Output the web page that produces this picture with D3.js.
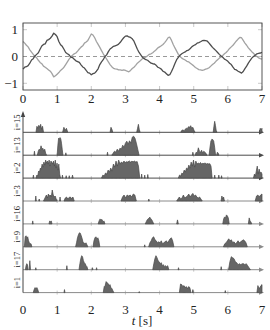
<!DOCTYPE html>
<html><head><meta charset="utf-8">
<script src="https://cdn.jsdelivr.net/npm/d3@7"></script>
<style>body{margin:0;background:#fff}svg{display:block}text{font-family:"Liberation Serif",serif;fill:#222}</style>
</head><body>
<svg id="c" width="270" height="330"></svg>
<script>
// ---- data ----
const tStep = 0.05;
const darkSignal = [-0.47,-0.40,-0.38,-0.34,-0.25,-0.13,-0.08,0.02,0.08,0.14,0.27,0.39,0.45,0.47,0.6,0.63,0.68,0.76,0.87,0.82,0.74,0.56,0.44,0.38,0.27,0.15,0.1,0.06,-0.02,-0.04,-0.1,-0.16,-0.19,-0.22,-0.31,-0.39,-0.43,-0.52,-0.6,-0.62,-0.68,-0.64,-0.62,-0.55,-0.46,-0.3,-0.2,-0.12,0.0,0.06,0.18,0.28,0.33,0.38,0.4,0.42,0.46,0.53,0.62,0.7,0.76,0.77,0.73,0.71,0.66,0.57,0.42,0.27,0.15,0.06,-0.03,-0.08,-0.12,-0.14,-0.2,-0.25,-0.27,-0.28,-0.33,-0.4,-0.43,-0.47,-0.55,-0.58,-0.64,-0.7,-0.68,-0.56,-0.42,-0.26,-0.12,-0.03,0.05,0.1,0.14,0.17,0.22,0.24,0.3,0.37,0.41,0.44,0.5,0.52,0.55,0.59,0.6,0.59,0.57,0.5,0.42,0.34,0.28,0.22,0.15,0.08,0.02,-0.03,-0.1,-0.13,-0.18,-0.25,-0.3,-0.4,-0.48,-0.5,-0.55,-0.58,-0.62,-0.56,-0.45,-0.36,-0.25,-0.15,-0.06,0.0,0.05,0.1,0.12,0.13,0.15];
const lightSignal = [0.56,0.5,0.42,0.36,0.25,0.16,0.08,0.0,-0.05,-0.14,-0.22,-0.27,-0.36,-0.4,-0.45,-0.5,-0.55,-0.64,-0.76,-0.72,-0.66,-0.6,-0.52,-0.47,-0.4,-0.3,-0.2,-0.1,-0.02,0.05,0.1,0.13,0.2,0.28,0.35,0.4,0.5,0.54,0.6,0.72,0.84,0.8,0.7,0.56,0.45,0.34,0.22,0.1,0.0,-0.1,-0.2,-0.3,-0.38,-0.44,-0.46,-0.47,-0.5,-0.5,-0.52,-0.5,-0.52,-0.55,-0.57,-0.52,-0.45,-0.4,-0.33,-0.25,-0.2,-0.14,-0.08,-0.05,-0.02,0.03,0.08,0.1,0.14,0.2,0.25,0.32,0.36,0.4,0.45,0.52,0.6,0.7,0.72,0.6,0.45,0.32,0.2,0.08,0.0,-0.06,-0.1,-0.13,-0.18,-0.2,-0.25,-0.3,-0.35,-0.41,-0.45,-0.49,-0.5,-0.52,-0.5,-0.47,-0.45,-0.42,-0.36,-0.3,-0.25,-0.18,-0.12,-0.06,-0.02,0.04,0.1,0.15,0.22,0.3,0.36,0.42,0.5,0.58,0.65,0.71,0.7,0.6,0.5,0.42,0.32,0.25,0.18,0.12,0.05,0.0,-0.05,-0.08,-0.1];
const xTicks = [0,1,2,3,4,5,6,7];
const yTicks = [-1,0,1];
const rowLabels = ["i=15","i=13","i=2","i=3","i=16","i=9","i=17","i=1"];
// bursts: [start, end, samples]
const bursts15 = [[0.38,0.6,[0,0.3,0.2,0.35,0.25,0.4,0.15,0.3,0]],[1.16,1.31,[0,0.25,0.1,0.2,0]],[2.55,2.63,[0,0.25,0.15,0]],[3.33,3.43,[0,0.2,0.4,0.15,0]],[4.62,5.04,[0,0.1,0.12,0.08,0.15,0.2,0.18,0.28,0.25,0.33,0.2,0.25,0.1,0]],[5.57,5.68,[0,0.3,0.55,0.35,0.1,0]],[6.92,7.0,[0,0.2,0.15,0.2]]];
const bursts13 = [[0.32,0.35,[0,0.2,0]],[0.42,0.69,[0,0.2,0.3,0.25,0.47,0.3,0.35,0.2,0.3,0.1,0]],[1.0,1.17,[0,0.5,0.85,0.8,0.88,0.82,0.6,0.3,0]],[1.24,1.27,[0,0.12,0]],[2.46,2.49,[0,0.15,0]],[2.6,3.4,[0,0.1,0.2,0.15,0.3,0.2,0.35,0.3,0.5,0.4,0.6,0.7,0.55,0.72,0.6,0.9,0.95,0.85,0.6,0.3,0]],[4.96,4.99,[0,0.15,0]],[5.04,5.39,[0,0.15,0.1,0.37,0.2,0.15,0.25,0.1,0.2,0.15,0.1,0]],[5.45,5.64,[0,0.4,0.7,0.8,0.78,0.7,0.4,0]],[5.67,5.74,[0,0.15,0.1,0]]];
const bursts2 = [[0.29,0.32,[0,0.15,0]],[0.38,1.1,[0,0.15,0.1,0.35,0.3,0.5,0.45,0.7,0.55,0.8,0.65,0.9,0.75,0.85,0.7,0.9,0.6,0.85,0.8,0.7,0.85,0.6,0.9,0.5,0.75,0.4,0.7,0.2,0]],[1.14,1.17,[0,0.15,0]],[1.25,1.28,[0,0.12,0]],[1.34,1.37,[0,0.12,0]],[1.43,1.47,[0,0.15,0]],[2.3,3.42,[0,0.15,0.1,0.25,0.2,0.4,0.3,0.5,0.35,0.7,0.55,0.85,0.6,0.9,0.7,0.8,0.75,0.85,0.78,0.82,0.8,0.86,0.8,0.84,0.82,0.85,0.8,0.83,0.6,0]],[3.46,3.49,[0,0.2,0]],[3.55,3.58,[0,0.15,0]],[3.64,3.67,[0,0.18,0]],[4.55,5.54,[0,0.15,0.1,0.25,0.2,0.4,0.3,0.5,0.45,0.65,0.5,0.8,0.6,0.9,0.55,0.85,0.7,0.75,0.72,0.78,0.7,0.74,0.72,0.76,0.7,0.73,0.71,0.72,0.6,0]],[5.6,5.63,[0,0.15,0]],[5.72,5.75,[0,0.15,0]],[5.8,5.83,[0,0.12,0]],[6.75,7.0,[0,0.2,0.1,0.35,0.6,0.2,0.45,0.25,0.3,0.2]]];
const bursts3 = [[0.36,0.39,[0,0.25,0]],[0.46,0.49,[0,0.1,0]],[0.6,1.0,[0,0.1,0.2,0.3,0.15,0.35,0.25,0.3,0.2,0.55,0.3,0.2,0.25,0.1,0]],[1.07,1.1,[0,0.2,0]],[1.2,1.5,[0,0.15,0.2,0.1,0.18,0.2,0.12,0.2,0]],[2.87,3.32,[0,0.2,0.3,0.15,0.3,0.25,0.3,0.2,0.35,0.3,0]],[3.67,3.7,[0,0.1,0]],[4.5,5.25,[0,0.1,0.2,0.1,0.15,0.3,0.15,0.2,0.25,0.35,0.2,0.3,0.38,0.25,0.3,0.2,0.15,0.2,0.1,0]],[5.8,5.9,[0,0.25,0.1,0.2,0]],[6.8,7.0,[0,0.25,0.3,0.2,0.3,0.35]]];
const bursts16 = [[0.27,0.3,[0,0.15,0]],[0.76,0.85,[0,0.15,0.1,0.15,0]],[2.2,2.4,[0,0.15,0.25,0.2,0.22,0.1,0.15,0]],[3.58,3.83,[0,0.1,0.2,0.25,0.3,0.33,0.25,0.2,0.1,0]],[4.5,4.55,[0,0.2,0]],[5.85,6.04,[0,0.25,0.35,0.3,0.45,0.4,0.3,0]],[6.6,6.7,[0,0.3,0.15,0.1,0]]];
const bursts9 = [[0.04,0.26,[0,0.5,0.55,0.45,0.5,0.3,0.2,0.15,0.15,0]],[1.54,1.9,[0,0.2,0.45,0.6,0.7,0.68,0.55,0.4,0.2,0.2,0.15,0.2,0.1,0]],[2.05,2.25,[0,0.3,0.45,0.5,0.4,0.45,0.3,0]],[3.55,3.58,[0,0.1,0]],[3.68,4.42,[0,0.2,0.3,0.45,0.5,0.35,0.3,0.2,0.25,0.2,0.3,0.15,0.2,0.25,0.3,0.2,0.3,0.4,0.45,0.3,0]],[5.87,6.57,[0,0.15,0.2,0.3,0.4,0.3,0.35,0.2,0.25,0.15,0.2,0.3,0.2,0.25,0.3,0.35,0.3,0.2,0]]];
const bursts17 = [[0.07,0.15,[0,0.2,0.3,0.25,0]],[0.18,0.22,[0,0.45,0]],[0.36,0.39,[0,0.1,0]],[1.27,1.3,[0,0.2,0]],[1.64,1.9,[0,0.3,0.55,0.7,0.65,0.45,0.35,0.3,0.2,0.15,0]],[2.02,2.05,[0,0.1,0]],[2.14,2.17,[0,0.1,0]],[3.8,4.27,[0,0.3,0.55,0.7,0.6,0.45,0.4,0.3,0.35,0.2,0.25,0.15,0.2,0.15,0.2,0]],[4.54,4.57,[0,0.1,0]],[5.79,5.82,[0,0.15,0]],[6.02,6.66,[0,0.4,0.65,0.6,0.55,0.4,0.35,0.25,0.3,0.25,0.3,0.3,0.25,0.3,0.2,0.1,0]]];
const bursts1 = [[0.3,0.46,[0,0.15,0.25,0.2,0.25,0.15,0]],[1.2,1.23,[0,0.15,0]],[2.35,2.66,[0,0.3,0.35,0.55,0.5,0.45,0.35,0.4,0.25,0.2,0.1,0]],[3.39,3.42,[0,0.05,0]],[4.58,4.92,[0,0.43,0.4,0.3,0.35,0.25,0.3,0.2,0.3,0.25,0]],[4.96,4.99,[0,0.15,0]],[5.91,5.94,[0,0.1,0]],[6.85,7.0,[0,0.35,0.2,0.25,0.35,0.4]]];
const rowBursts = [bursts15,bursts13,bursts2,bursts3,bursts16,bursts9,bursts17,bursts1];

// ---- drawing ----
const svg = d3.select("#c");
const x = d3.scaleLinear().domain([0,7]).range([23,262]);
const yTop = d3.scaleLinear().domain([-1.25,1.25]).range([90,23]);
const frameC = "#444", tickC = "#bbb";
const FS = 13;

const gT = svg.append("g");
xTicks.forEach(t=>{
  gT.append("line").attr("x1",x(t)).attr("x2",x(t)).attr("y1",yTop.range()[0]).attr("y2",yTop.range()[0]-4).attr("stroke",tickC).attr("stroke-width",0.8);
  gT.append("line").attr("x1",x(t)).attr("x2",x(t)).attr("y1",yTop.range()[1]).attr("y2",yTop.range()[1]+4).attr("stroke",tickC).attr("stroke-width",0.8);
});
yTicks.forEach(v=>{
  gT.append("line").attr("x1",x(0)).attr("x2",x(0)+4).attr("y1",yTop(v)).attr("y2",yTop(v)).attr("stroke",tickC).attr("stroke-width",0.8);
  gT.append("line").attr("x1",x(7)).attr("x2",x(7)-4).attr("y1",yTop(v)).attr("y2",yTop(v)).attr("stroke",tickC).attr("stroke-width",0.8);
});
gT.append("line").attr("x1",x(0)).attr("x2",x(7)).attr("y1",yTop(0)).attr("y2",yTop(0))
  .attr("stroke","#999").attr("stroke-width",1.1).attr("stroke-dasharray","4,3");
const line = d3.line().x((d,i)=>x(i*tStep)).y(d=>yTop(d));
svg.append("path").datum(lightSignal).attr("d",line).attr("fill","none").attr("stroke","#a2a2a2").attr("stroke-width",1.3).attr("stroke-linejoin","round");
svg.append("path").datum(darkSignal).attr("d",line).attr("fill","none").attr("stroke","#4d4d4d").attr("stroke-width",1.3).attr("stroke-linejoin","round");
svg.append("rect").attr("x",x(0)).attr("y",yTop.range()[1]).attr("width",x(7)-x(0)).attr("height",yTop.range()[0]-yTop.range()[1])
  .attr("fill","none").attr("stroke",frameC).attr("stroke-width",0.9);
xTicks.forEach(t=>{
  svg.append("text").attr("x",x(t)).attr("y",103).attr("text-anchor","middle").attr("font-size",FS).text(t);
});
yTicks.forEach(v=>{
  svg.append("text").attr("x",18).attr("y",yTop(v)+4.5).attr("text-anchor","end").attr("font-size",FS).text(v<0?"\u2212"+Math.abs(v):v);
});

// raster panel
const yRow = d3.scalePoint().domain(rowLabels).range([132.3,292.6]);
const h = d3.scaleLinear().domain([0,1]).range([0,20]);
const area = d3.area().x(d=>x(d[0])).y0(d=>d[2]).y1(d=>d[2]-h(d[1]));
rowLabels.forEach((lab,k)=>{
  const base = yRow(lab);
  const col = k<3 ? "#4a4a4a" : "#8a8a8a";
  xTicks.slice(1,7).forEach(t=>{
    svg.append("line").attr("x1",x(t)).attr("x2",x(t)).attr("y1",base-2).attr("y2",base+2).attr("stroke",tickC).attr("stroke-width",0.8);
  });
  svg.append("line").attr("x1",x(0)).attr("x2",x(7)-2).attr("y1",base).attr("y2",base).attr("stroke",col).attr("stroke-width",1);
  svg.append("path").attr("d",`M${x(7)+2},${base} L${x(7)-3},${base-2.2} L${x(7)-3},${base+2.2} Z`).attr("fill",col);
  rowBursts[k].forEach(b=>{
    const [s,e,vals] = b;
    const n = vals.length;
    const pts = vals.map((v,i)=>[s+(e-s)*i/(n-1), v, base]);
    svg.append("path").attr("d",area(pts)).attr("fill","#666").attr("stroke","#484848").attr("stroke-width",0.7).attr("stroke-linejoin","round");
  });
  svg.append("text").attr("transform",`translate(19.5,${base-10}) rotate(-90)`).attr("text-anchor","middle").attr("font-size",8.5).text(lab);
});
svg.append("line").attr("x1",x(0)).attr("x2",x(0)).attr("y1",yRow(rowLabels[7])).attr("y2",116).attr("stroke",frameC).attr("stroke-width",1);
svg.append("path").attr("d",`M${x(0)},111 L${x(0)-2.2},117 L${x(0)+2.2},117 Z`).attr("fill",frameC);
xTicks.forEach(t=>{
  svg.append("text").attr("x",x(t)).attr("y",314).attr("text-anchor","middle").attr("font-size",FS).text(t);
});
const xl = svg.append("text").attr("x",142).attr("y",325).attr("text-anchor","middle").attr("font-size",FS);
xl.append("tspan").attr("font-style","italic").text("t");
xl.append("tspan").text(" [s]");
</script>
</body></html>
